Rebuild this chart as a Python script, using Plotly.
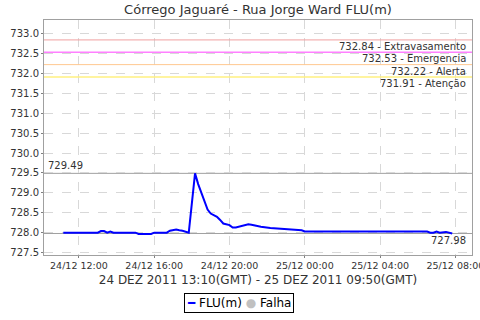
import plotly.graph_objects as go

title = "Córrego Jaguaré - Rua Jorge Ward FLU(m)"
x_title = "24 DEZ 2011 13:10(GMT) - 25 DEZ 2011 09:50(GMT)"

times = [
    "2011-12-24 11:10", "2011-12-24 13:00", "2011-12-24 13:10", "2011-12-24 13:20",
    "2011-12-24 13:30", "2011-12-24 13:40", "2011-12-24 13:50", "2011-12-24 15:00",
    "2011-12-24 15:10", "2011-12-24 15:50", "2011-12-24 16:00", "2011-12-24 16:40",
    "2011-12-24 16:50", "2011-12-24 17:10", "2011-12-24 17:20", "2011-12-24 17:30",
    "2011-12-24 17:50", "2011-12-24 18:10", "2011-12-24 18:20", "2011-12-24 18:30",
    "2011-12-24 18:40", "2011-12-24 18:50", "2011-12-24 19:00", "2011-12-24 19:20",
    "2011-12-24 19:30", "2011-12-24 19:40", "2011-12-24 20:00", "2011-12-24 20:10",
    "2011-12-24 20:20", "2011-12-24 20:30", "2011-12-24 20:40", "2011-12-24 21:00",
    "2011-12-24 21:10", "2011-12-24 21:40", "2011-12-24 22:10", "2011-12-24 22:40",
    "2011-12-24 23:10", "2011-12-24 23:50", "2011-12-25 00:00", "2011-12-25 06:30",
    "2011-12-25 06:40", "2011-12-25 06:50", "2011-12-25 07:00", "2011-12-25 07:10",
    "2011-12-25 07:30", "2011-12-25 07:50",
]
flu = [
    728.00, 728.00, 728.04, 728.04,
    728.00, 728.03, 728.00, 728.00,
    727.97, 727.97, 728.00, 728.00,
    728.05, 728.08, 728.06, 728.05,
    728.00, 729.49, 729.22, 729.00,
    728.82, 728.58, 728.48, 728.40,
    728.32, 728.23, 728.19, 728.13,
    728.13, 728.15, 728.18, 728.21,
    728.20, 728.15, 728.12, 728.10,
    728.08, 728.06, 728.03, 728.03,
    728.00, 728.00, 728.03, 728.00,
    728.02, 727.98,
]

limit_values = [732.84, 732.53, 732.22, 731.91]
limit_names = ["Extravasamento", "Emergencia", "Alerta", "Atenção"]
limit_colors = ["#f0a0a0", "#ff80ff", "#ffc890", "#fff080"]
limit_widths = [1, 1.5, 1, 1.5]

max_value = 729.49
min_value = 727.98

y_ticks = [727.5, 728.0, 728.5, 729.0, 729.5, 730.0, 730.5, 731.0,
           731.5, 732.0, 732.5, 733.0]

series_name = "FLU(m)"
fail_name = "Falha"
line_color = "#0000ff"
fail_color = "#c0c0c0"

font = "DejaVu Sans"
text_color = "#333333"

fig = go.Figure()
fig.add_trace(go.Scatter(x=times, y=flu, mode="lines", name=series_name,
                         line=dict(color=line_color, width=2)))
fig.add_trace(go.Scatter(x=[None], y=[None], mode="markers", name=fail_name,
                         marker=dict(color=fail_color, size=9)))

shapes = []
annotations = []
for v, n, c, w in zip(limit_values, limit_names, limit_colors, limit_widths):
    shapes.append(dict(type="line", xref="paper", x0=0, x1=1, yref="y", y0=v, y1=v,
                       line=dict(color=c, width=w), layer="above"))
    annotations.append(dict(xref="paper", x=0.99, yref="y", y=v, text=f"{v:.2f} - {n}",
                            showarrow=False, xanchor="right", yanchor="top",
                            font=dict(family=font, size=10, color=text_color), yshift=1))
for v in [max_value, min_value]:
    shapes.append(dict(type="line", xref="paper", x0=0, x1=1, yref="y", y0=v, y1=v,
                       line=dict(color="#a0a0a0", width=1), layer="below"))
annotations.append(dict(xref="paper", x=0.005, yref="y", y=max_value, text=f"{max_value:.2f}",
                        showarrow=False, xanchor="left", yanchor="bottom",
                        font=dict(family=font, size=10, color=text_color)))
annotations.append(dict(xref="paper", x=0.99, yref="y", y=min_value, text=f"{min_value:.2f}",
                        showarrow=False, xanchor="right", yanchor="top",
                        font=dict(family=font, size=10, color=text_color)))
# legend box (drawn as bordered text to match the compact original legend)
annotations.append(dict(
    xref="paper", x=0.456, yref="paper", y=-0.204, xanchor="center", yanchor="middle",
    showarrow=False, bordercolor="black", borderwidth=1, borderpad=2, bgcolor="white",
    text=(f"<span style='color:{line_color}'>━</span> {series_name} "
          f"<span style='color:{fail_color}'>●</span> {fail_name}"),
    font=dict(family=font, size=12, color="black"),
))

fig.update_layout(
    width=480, height=320,
    margin=dict(l=44, r=8, t=20, b=65, autoexpand=False),
    paper_bgcolor="white", plot_bgcolor="white",
    font=dict(family=font, size=10, color=text_color),
    title=dict(text=title, x=0.5, xref="paper", y=1 - 9 / 320, yref="container",
               yanchor="middle", xanchor="center",
               font=dict(family=font, size=13, color=text_color)),
    showlegend=False,
    shapes=shapes, annotations=annotations,
)
fig.update_xaxes(
    range=["2011-12-24 10:08:30", "2011-12-25 08:53"],
    dtick=4 * 3600 * 1000, tick0="2011-12-24 00:00", tickformat="%d/%m %H:%M",
    showgrid=True, gridcolor="#d8d8d8", griddash="dash", gridwidth=1,
    ticks="outside", ticklen=2, tickcolor="#808080",
    showline=True, linecolor="#a0a0a0", mirror=True, automargin=False,
    ticklabeloverflow="allow",
    title=dict(text=x_title, standoff=5, font=dict(family=font, size=12, color=text_color)),
    tickfont=dict(family=font, size=9.5, color=text_color), zeroline=False,
)
fig.update_yaxes(
    range=[727.44, 733.34], tickvals=y_ticks, ticktext=[f"{t:.1f}" for t in y_ticks],
    showgrid=True, gridcolor="#d8d8d8", griddash="dash", gridwidth=1,
    ticks="outside", ticklen=2, tickcolor="#808080",
    showline=True, linecolor="#a0a0a0", mirror=True, automargin=False,
    tickfont=dict(family=font, size=10, color=text_color), zeroline=False,
)

fig.write_html("out.html")
